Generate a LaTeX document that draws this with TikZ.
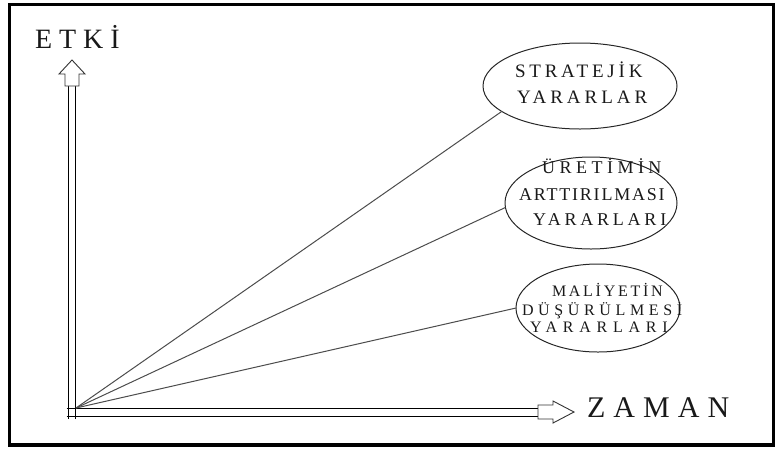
\documentclass[tikz,border=0pt]{standalone}
\usepackage{fontspec}
\setmainfont{Liberation Serif}
\usetikzlibrary{shapes.geometric}
% letter-spaced capitals
\newcommand\tracked[3]{{\fontsize{#1}{#1}\selectfont\addfontfeature{LetterSpace=#2}#3}}
\begin{document}
\begin{tikzpicture}[x=1pt,y=-1pt,
  frame/.style={line width=3.5pt,draw=black},
  axisline/.style={line width=1pt,draw=black},
  arrowhead/.style={line width=0.9pt,draw=black!80,fill=white,line join=miter},
  ray/.style={line width=1pt,draw=black!70},
  benefit/.style={ellipse,draw=black!85,line width=1pt,inner sep=0pt,outer sep=0pt},
  caption/.style={inner sep=0pt,outer sep=0pt,anchor=base west,text=black!90},
]
\useasboundingbox (0,0) rectangle (775,448);
\draw[frame] (9.5,4.5) rectangle (773.5,445);

% axes drawn as double lines with hollow block arrows
\draw[axisline] (68,419) -- (68,86);
\draw[axisline] (75.5,419) -- (75.5,86);
\draw[axisline] (66.5,408.5) -- (538,408.5);
\draw[axisline] (66.5,416) -- (538,416);
\draw[arrowhead] (65,86) -- (65,74) -- (59,74) -- (72,60) -- (85,74) -- (79,74) -- (79,86) -- cycle;
\draw[arrowhead] (538,405) -- (553,405) -- (553,401) -- (574,412) -- (553,423) -- (553,419) -- (538,419) -- cycle;

\node[caption] (etki) at (35,48) {\tracked{28}{25}{ETKİ}};
\node[caption] (zaman) at (587,417) {\tracked{30}{27}{ZAMAN}};

% benefit ellipses
\node[benefit,minimum width=194pt,minimum height=86pt] (e1) at (580,86) {};
\node[benefit,minimum width=172pt,minimum height=92pt] (e2) at (591,203) {};
\node[benefit,minimum width=164pt,minimum height=88pt] (e3) at (598,308) {};

\node[caption] (s1) at (515,77) {\tracked{19}{20}{STRATEJİK}};
\node[caption] (s2) at (517,103) {\tracked{19}{21}{YARARLAR}};

\node[caption] (u1) at (542,173) {\tracked{18}{25}{ÜRETİMİN}};
\node[caption] (u2) at (519,200) {\tracked{18}{10}{ARTTIRILMASI}};
\node[caption] (u3) at (533,225) {\tracked{18}{21}{YARARLARI}};

\node[caption] (m1) at (552,296) {\tracked{16}{17}{MALİYETİN}};
\node[caption] (m2) at (522,315) {\tracked{16}{29}{DÜŞÜRÜLMESİ}};
\node[caption] (m3) at (530,332) {\tracked{16}{36}{YARARLARI}};

% rays from the origin to each ellipse
\coordinate (o) at (76,408);
\draw[ray] (o) -- (e1.198);
\draw[ray] (o) -- (e2.183);
\draw[ray] (o) -- (e3.180);
\end{tikzpicture}
\end{document}
